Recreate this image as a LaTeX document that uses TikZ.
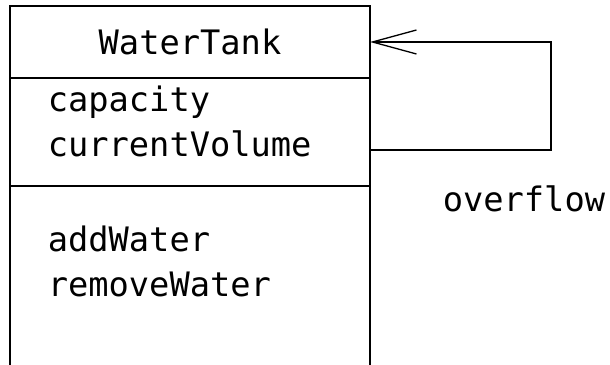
\documentclass[tikz,border=0pt]{standalone}
\usepackage{fontspec}
\newfontfamily\umlfont{DejaVu Sans Mono}
\usetikzlibrary{positioning,arrows.meta}
\newcommand{\classfont}{\umlfont\fontsize{33.7}{45}\selectfont}
\tikzset{
  compart/.style = {draw, minimum width = 360pt, outer sep = 0pt},
  member/.style  = {anchor = base west, inner sep = 0pt},
  assoc/.style   = {-{Straight Barb[length = 44pt, width = 24pt, line width = 1.3pt]}}
}
\begin{document}
\begin{tikzpicture}[x = 1pt, y = 1pt, line width = 1.6pt, font = \classfont]
  \useasboundingbox (0,0) rectangle (610,364);
  % class box, cut off at the bottom
  \node [compart, minimum height = 72pt, anchor = north west] (head) at (10,358) {};
  \node [compart, minimum height = 108pt, below = 0pt of head] (attrs) {};
  \node [compart, minimum height = 220pt, below = 0pt of attrs] (ops) {};
  \node [inner sep = 0pt] (name) at (head) {WaterTank};
  \node [member] (capacity) at (47,252.3) {capacity};
  \node [member] (volume) at (47,207.3) {currentVolume};
  \node [member] (add) at (47,112.3) {addWater};
  \node [member] (remove) at (47,67.3) {removeWater};
  % self association
  \draw [assoc] ([yshift = -18pt]attrs.east) -- ++(181,0) |- (head.east);
  \node [member] (overflow) at (442,152.3) {overflow};
\end{tikzpicture}
\end{document}
